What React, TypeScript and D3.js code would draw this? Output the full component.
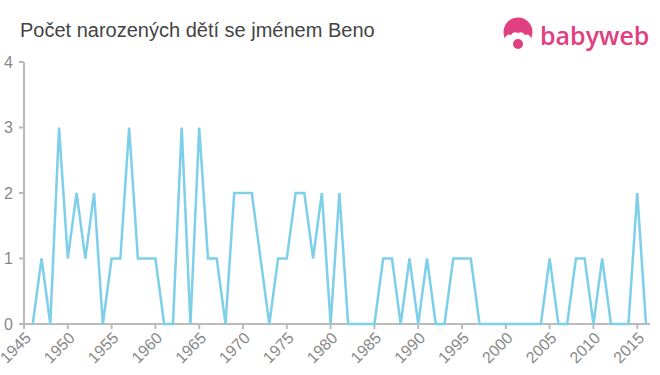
import React from "react";
import * as d3 from "d3";

const years: number[] = d3.range(1946, 2017);
const counts: number[] = [
  0, 1, 0, 3, 1, 2, 1, 2, 0, 1, 1, 3, 1, 1, 1, 0, 0, 3, 0, 3,
  1, 1, 0, 2, 2, 2, 1, 0, 1, 1, 2, 2, 1, 2, 0, 2, 0, 0, 0, 0,
  1, 1, 0, 1, 0, 1, 0, 0, 1, 1, 1, 0, 0, 0, 0, 0, 0, 0, 0, 1,
  0, 0, 1, 1, 0, 1, 0, 0, 0, 2, 0,
];
const xTicks: number[] = d3.range(1945, 2016, 5);
const yTicks: number[] = [0, 1, 2, 3, 4];
const title = "Počet narozených dětí se jménem Beno";

export default function App() {
  const W = 660, H = 375;
  const x = d3.scaleLinear().domain([1945, 2016]).range([24, 646]);
  const y = d3.scaleLinear().domain([0, 4]).range([324, 62]);
  const data = years.map((yr, i) => ({ yr, v: counts[i] }));
  const line = d3.line<{ yr: number; v: number }>().x((d) => x(d.yr)).y((d) => y(d.v));
  const axisColor = "#bbbbbb";
  const labelColor = "#888888";
  const pink = "#e0407f";
  const font = "'Liberation Sans', Arial, sans-serif";
  return (
    <svg width={W} height={H} style={{ position: "absolute", left: 0, top: 0, background: "#fff" }} fontFamily={font}>
      <text x={20} y={37} fontSize={20} fill="#444">{title}</text>
      {/* logo */}
      <g>
        <circle cx={518} cy={32} r={14.5} fill={pink} />
        <path d="M505,38 q2,-5 6,-3 q2,-4 7,-2 q5,-2 7,2 q4,-2 6,3 l0,10 l-26,0 z" fill="#fff" />
        <circle cx={518} cy={44} r={5} fill={pink} />
        <text x={540} y={45} fontSize={25} fontWeight={600} fill={pink} fontFamily="'Open Sans', 'Noto Sans', sans-serif">babyweb</text>
      </g>
      {/* y axis */}
      <line x1={24} x2={24} y1={y(4)} y2={y(0)} stroke={axisColor} strokeWidth={2} />
      {yTicks.map((t) => (
        <g key={t}>
          <line x1={19} x2={24} y1={y(t)} y2={y(t)} stroke={axisColor} strokeWidth={2} />
          <text x={13} y={y(t)} dy="0.36em" fontSize={16} fill={labelColor} textAnchor="end">{t}</text>
        </g>
      ))}
      {/* x axis */}
      <line x1={24} x2={650} y1={y(0)} y2={y(0)} stroke={axisColor} strokeWidth={2} />
      {xTicks.map((t) => (
        <g key={t} transform={`translate(${x(t)},${y(0)})`}>
          <line y1={0} y2={5} stroke={axisColor} strokeWidth={2} />
          <text transform="translate(4,11) rotate(-45)" fontSize={16} fill={labelColor} textAnchor="end" dy="0.35em">{t}</text>
        </g>
      ))}
      <path d={line(data) || ""} fill="none" stroke="#7dcfea" strokeWidth={2.5} strokeLinejoin="miter" />
    </svg>
  );
}
